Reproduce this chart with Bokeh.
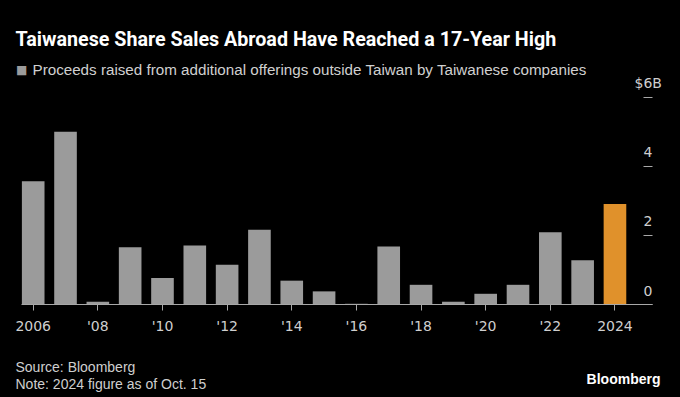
from bokeh.plotting import figure
from bokeh.models import (Range1d, FixedTicker, LinearAxis, Label, LabelSet,
                          ColumnDataSource)
from bokeh.core.properties import value
from bokeh.embed import file_html
from bokeh.resources import INLINE

# ---- data ----
years = list(range(2006, 2025))
proceeds = [3.57, 5.0, 0.08, 1.66, 0.77, 1.71, 1.15, 2.16, 0.69, 0.38,
            0.02, 1.68, 0.57, 0.08, 0.31, 0.57, 2.09, 1.28, 2.91]
bar_colors = ["#9b9b9b"] * 18 + ["#e0912b"]
x_ticks = [2006, 2008, 2010, 2012, 2014, 2016, 2018, 2020, 2022, 2024]
x_tick_labels = ["2006", "'08", "'10", "'12", "'14", "'16", "'18", "'20", "'22", "2024"]
y_ticks = [0, 2, 4, 6]
y_tick_labels = ["0", "2", "4", "$6B"]

title_text = "Taiwanese Share Sales Abroad Have Reached a 17-Year High"
legend_text = "Proceeds raised from additional offerings outside Taiwan by Taiwanese companies"
source_text = "Source: Bloomberg"
note_text = "Note: 2024 figure as of Oct. 15"
brand_text = "Bloomberg"

BG = "#000000"
GRAY = "#9b9b9b"
TXT = "#cfcfcf"
AXC = "#a8a8a8"

W, H = 680, 397
# plot geometry (pixels): frame covers the whole canvas
X0_PX, STEP_PX = 32.7, 32.32      # centre of first bar, px per year
Y0_PX, UNIT_PX = 304.0, 34.55     # baseline, px per $1B
x_start = years[0] - X0_PX / STEP_PX
x_end = x_start + W / STEP_PX
y_end = Y0_PX / UNIT_PX
y_start = -(H - Y0_PX) / UNIT_PX
axis_x = years[0] + (652 - X0_PX) / STEP_PX      # right end of baseline
base_left = years[0] - 0.35

p = figure(width=W, height=H, output_backend="svg", toolbar_location=None,
           x_range=Range1d(x_start, x_end), y_range=Range1d(y_start, y_end),
           x_axis_location=None, y_axis_location=None,
           min_border=0)
p.background_fill_color = BG
p.border_fill_color = BG
p.outline_line_color = None
p.xgrid.visible = False
p.ygrid.visible = False

src = ColumnDataSource(dict(x=years, top=proceeds, color=bar_colors))
p.vbar(x="x", top="top", width=0.7, bottom=0, color="color", line_color=None, source=src)

xa = LinearAxis(fixed_location=0, bounds=(base_left, axis_x))
xa.ticker = FixedTicker(ticks=x_ticks)
xa.major_label_overrides = {t: l for t, l in zip(x_ticks, x_tick_labels)}
xa.axis_line_color = AXC
xa.axis_line_width = 1
xa.major_tick_line_color = AXC
xa.major_tick_in = 0
xa.major_tick_out = 6
xa.minor_tick_line_color = None
xa.major_label_standoff = 7
xa.major_label_text_font = "DejaVu Sans"
xa.major_label_text_font_size = "14px"
xa.major_label_text_color = TXT
p.add_layout(xa, "below")

ya = LinearAxis(fixed_location=axis_x, bounds=(0, 6))
ya.ticker = FixedTicker(ticks=y_ticks)
ya.axis_line_color = None
ya.major_tick_line_color = AXC
ya.major_tick_in = 9
ya.major_tick_out = 0
ya.minor_tick_line_color = None
ya.major_label_text_color = None
ya.major_label_standoff = 0
p.add_layout(ya, "right")

def sy(py):
    return H - py

ysrc = ColumnDataSource(dict(y=y_ticks, text=y_tick_labels,
                             x=[643] * 4, dx=[0, 0, 0, -9]))
p.add_layout(LabelSet(x="x", y="y", text="text", x_units="screen", y_units="data",
                      x_offset="dx", y_offset=9, source=ysrc,
                      text_font=value("DejaVu Sans"), text_font_size=value("14px"),
                      text_color=TXT, text_align="left", text_baseline="alphabetic"))

def add_label(text, px, py, size, color, bold=False, font="Liberation Sans", align="left"):
    p.add_layout(Label(x=px, y=sy(py), x_units="screen", y_units="screen",
                       text=text, text_font=font, text_font_size=size,
                       text_font_style="bold" if bold else "normal",
                       text_color=color, text_align=align, text_baseline="alphabetic"))

add_label(title_text, 15, 38.5, "19.7px", "#ffffff", bold=True, font="Roboto")
add_label(legend_text, 32, 69, "15.2px", "#d0d0d0")
add_label("\u25A0", 15.5, 69.3, "12px", GRAY, font="DejaVu Sans")
add_label(source_text, 15, 366, "14px", TXT)
add_label(note_text, 15, 383, "14px", TXT)
add_label(brand_text, 660, 378, "14px", "#ffffff", bold=True, align="right")

html = file_html(p, INLINE)
html = html.replace("</head>", "<style>html,body{background:#000000;margin:0;}</style></head>", 1)
open("out.html", "w").write(html)
